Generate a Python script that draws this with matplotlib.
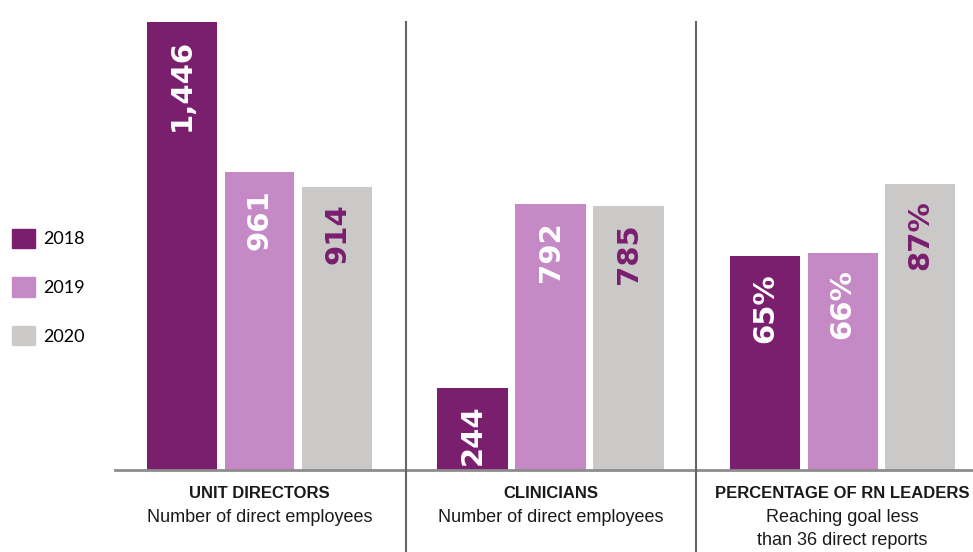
import matplotlib.pyplot as plt
from matplotlib.patches import Patch
from matplotlib.lines import Line2D

# 数据
years = ['2018', '2019', '2020']
unit_directors = [1446, 961, 914]
clinicians = [244, 792, 785]
rn_leaders_pct = [65, 66, 87]

unit_labels = ['1,446', '961', '914']
clin_labels = ['244', '792', '785']
pct_labels = ['65%', '66%', '87%']

group_titles = ['UNIT DIRECTORS', 'CLINICIANS', 'PERCENTAGE OF RN LEADERS']
group_subtitles = [['Number of direct employees'],
                   ['Number of direct employees'],
                   ['Reaching goal less', 'than 36 direct reports']]

colors = ['#7a1e6e', '#c58ac5', '#cbc8c8']
label_colors = ['white', 'white', '#7a1e6e']

W, H = 973, 552
fig = plt.figure(figsize=(W / 100, H / 100), dpi=100)

base = 470  # 基线像素位置
# 每个分组的坐标轴范围(像素)
spans = [(115, 406), (406, 696), (696, 973)]
xlims = [(-0.865, 2.89), (-0.853, 2.865), (-0.89, 2.68)]
ylims = [1517, 1400, 143]
series = [unit_directors, clinicians, rn_leaders_pct]
texts = [unit_labels, clin_labels, pct_labels]

for i in range(3):
    x0, x1 = spans[i]
    ax = fig.add_axes([x0 / W, (H - base) / H, (x1 - x0) / W, base / H])
    xs = list(range(len(years)))
    ax.bar(xs, series[i], width=0.9, color=colors)
    ax.set_xlim(*xlims[i])
    ax.set_ylim(0, ylims[i])
    for s in ['top', 'right', 'left']:
        ax.spines[s].set_visible(False)
    ax.spines['bottom'].set_color('#8c8c8c')
    ax.spines['bottom'].set_linewidth(2)
    ax.set_xticks([])
    ax.set_yticks([])
    ax.patch.set_alpha(0)

    # 柱内数值标签
    for x, v, t, c in zip(xs, series[i], texts[i], label_colors):
        ax.annotate(t, (x, v), xytext=(0, -12), textcoords='offset points',
                    rotation=90, ha='center', va='top', color=c,
                    fontsize=21, fontweight='bold', family='DejaVu Sans')

    # 分组标题
    tr = ax.get_xaxis_transform()
    ax.text(1, -0.049, group_titles[i], transform=tr, ha='center', va='center',
            fontsize=12, fontweight='bold', family='Liberation Sans',
            color='#1a1a1a')
    for j, sub in enumerate(group_subtitles[i]):
        ax.text(1, -0.102 - 0.049 * j, sub, transform=tr, ha='center',
                va='center', fontsize=13, family='Liberation Sans',
                color='#1a1a1a')

# 分隔线
for xd in [406, 696]:
    fig.add_artist(Line2D([xd / W, xd / W], [(H - 22) / H, 0],
                          transform=fig.transFigure, color='#666666', lw=1.5))

# 图例
handles = [Patch(color=c) for c in colors]
fig.legend(handles, years, loc='center left',
           bbox_to_anchor=(-0.004, (H - 287) / H), frameon=False,
           handlelength=1.25, handleheight=1.25, labelspacing=1.65,
           handletextpad=0.45,
           prop={'family': 'Lato', 'size': 13})

fig.savefig('out.png', dpi=100)
